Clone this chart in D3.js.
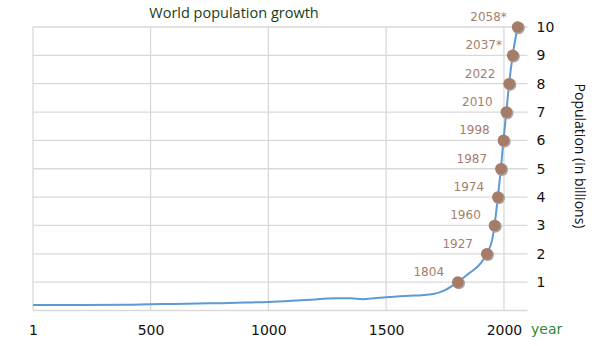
<!DOCTYPE html>
<html>
<head>
<meta charset="utf-8">
<script src="https://cdn.jsdelivr.net/npm/d3@7"></script>
<style>
  html, body { margin: 0; padding: 0; background: #fff; }
  svg { display: block; }
</style>
</head>
<body>
<svg id="chart" width="600" height="346"></svg>
<script>
// Estimated world population (billions) over time
const years = [1, 200, 400, 500, 600, 700, 800, 900, 1000, 1100, 1200, 1250, 1300, 1350, 1400, 1450, 1500, 1600, 1650, 1700, 1750, 1804, 1850, 1900, 1927, 1950, 1960, 1974, 1987, 1998, 2010, 2022, 2037, 2058];
const population = [0.19, 0.19, 0.2, 0.22, 0.23, 0.25, 0.26, 0.28, 0.3, 0.34, 0.39, 0.42, 0.43, 0.43, 0.4, 0.43, 0.47, 0.52, 0.54, 0.58, 0.72, 1, 1.3, 1.65, 2, 2.5, 3, 4, 5, 6, 7, 8, 9, 10];

// Milestone years at which each additional billion was (or will be) reached
const milestoneYears = [1804, 1927, 1960, 1974, 1987, 1998, 2010, 2022, 2037, 2058];
const milestoneBillions = [1, 2, 3, 4, 5, 6, 7, 8, 9, 10];
const milestoneLabels = ["1804", "1927", "1960", "1974", "1987", "1998", "2010", "2022", "2037*", "2058*"];

const xTicks = [1, 500, 1000, 1500, 2000];
const yTicks = [1, 2, 3, 4, 5, 6, 7, 8, 9, 10];

const svg = d3.select("#chart");
const plot = { left: 33, right: 527.5, top: 27, bottom: 310.5 };

const x = d3.scaleLinear().domain([1, 2100]).range([plot.left, plot.right]);
const y = d3.scaleLinear().domain([0, 10]).range([plot.bottom, plot.top]);

const font = "'DejaVu Sans', sans-serif";

// Horizontal gridlines (0..10)
svg.append("g").selectAll("line")
  .data(d3.range(0, 11))
  .join("line")
  .attr("x1", plot.left).attr("x2", plot.right)
  .attr("y1", d => y(d)).attr("y2", d => y(d))
  .attr("stroke", "#d9d9d9").attr("stroke-width", 1.3);

// Vertical gridlines at x ticks
svg.append("g").selectAll("line")
  .data(xTicks)
  .join("line")
  .attr("x1", d => x(d)).attr("x2", d => x(d))
  .attr("y1", plot.top).attr("y2", plot.bottom)
  .attr("stroke", "#d9d9d9").attr("stroke-width", 1.3);

// X axis tick labels
const xAxis = d3.axisBottom(x).tickValues(xTicks).tickSize(0).tickPadding(0).tickFormat(d3.format("d"));
const gx = svg.append("g").attr("transform", `translate(0, ${plot.bottom + 24})`).call(xAxis);
gx.select(".domain").remove();
gx.selectAll("text")
  .attr("dy", 0)
  .attr("font-family", font).attr("font-size", 14).attr("fill", "#111");

// Y axis tick labels on the right
const yAxis = d3.axisRight(y).tickValues(yTicks).tickSize(0).tickPadding(0);
const gy = svg.append("g").attr("transform", `translate(${plot.right + 9}, 0)`).call(yAxis);
gy.select(".domain").remove();
gy.selectAll("text")
  .attr("font-family", font).attr("font-size", 14).attr("fill", "#111");

// Population line
const line = d3.line()
  .x((d, i) => x(years[i]))
  .y(d => y(d))
  .curve(d3.curveMonotoneX);

svg.append("path")
  .datum(population)
  .attr("d", line)
  .attr("fill", "none")
  .attr("stroke", "#5b9bd5")
  .attr("stroke-width", 2);

// Milestone markers
const marks = svg.append("g").selectAll("g")
  .data(milestoneYears)
  .join("g");

marks.append("circle")
  .attr("cx", (d) => x(d) + 1)
  .attr("cy", (d, i) => y(milestoneBillions[i]) + 1)
  .attr("r", 6.2)
  .attr("fill", "#aaa29d");

marks.append("circle")
  .attr("cx", d => x(d))
  .attr("cy", (d, i) => y(milestoneBillions[i]))
  .attr("r", 5.8)
  .attr("fill", "#a57c67");

marks.append("text")
  .attr("x", d => x(d) - 29)
  .attr("y", (d, i) => y(milestoneBillions[i]) - 6)
  .attr("text-anchor", "middle")
  .attr("font-family", font).attr("font-size", 12)
  .attr("fill", "#a4806c")
  .text((d, i) => milestoneLabels[i]);

// Titles
svg.append("text")
  .attr("x", 234).attr("y", 18)
  .attr("text-anchor", "middle")
  .attr("font-family", "'Open Sans', sans-serif").attr("font-size", 14.5)
  .attr("fill", "#173f19")
  .text("World population growth");

svg.append("text")
  .attr("x", 531).attr("y", 334)
  .attr("font-family", font).attr("font-size", 14)
  .attr("fill", "#2e8b2e")
  .text("year");

svg.append("text")
  .attr("transform", "translate(575, 156) rotate(90)")
  .attr("text-anchor", "middle")
  .attr("font-family", "'Open Sans', sans-serif").attr("font-size", 14)
  .attr("fill", "#111")
  .text("Population (in billions)");
</script>
</body>
</html>
